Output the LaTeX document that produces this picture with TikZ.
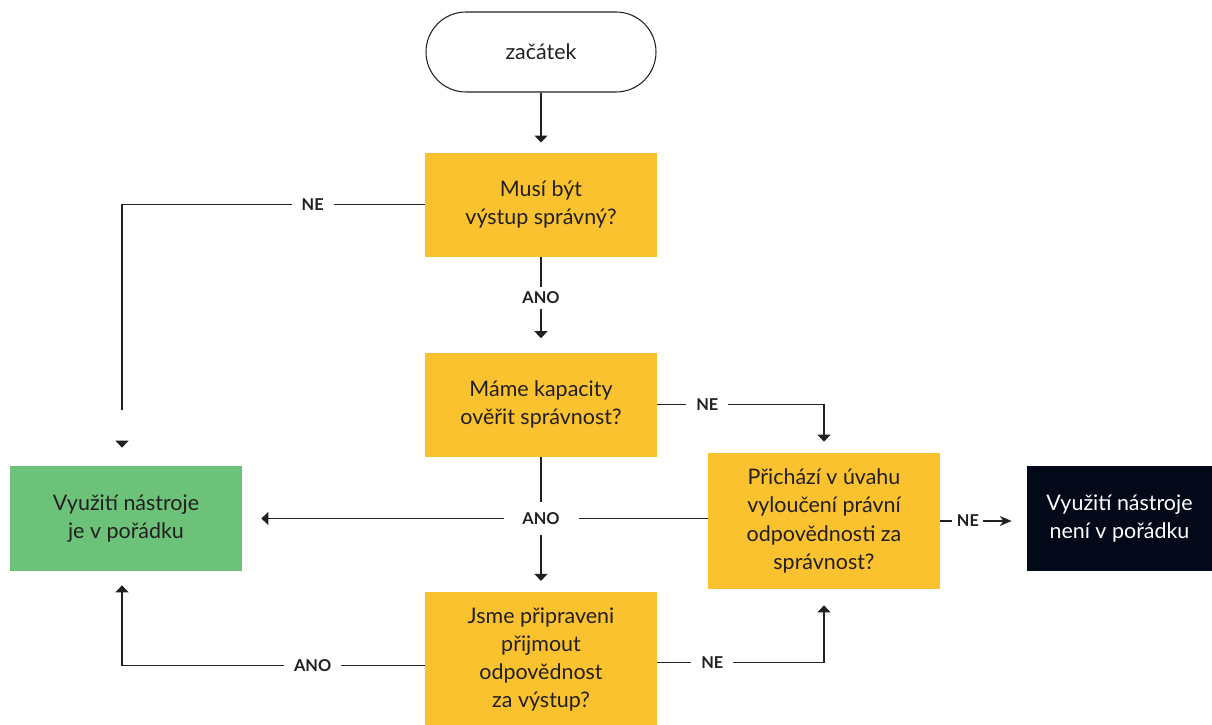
\documentclass[tikz,border=0pt]{standalone}
\usepackage{fontspec}
\setmainfont{Lato}
\usetikzlibrary{arrows.meta, positioning, calc}
\definecolor{flowyellow}{RGB}{249,194,46}
\definecolor{flowgreen}{RGB}{109,194,122}
\definecolor{flownavy}{RGB}{4,9,26}
\definecolor{flowtext}{RGB}{35,31,32}

\begin{document}
\begin{tikzpicture}[
    font=\fontsize{12.2}{16}\selectfont,
    >={Triangle[width=0.26cm, length=0.14cm]},
    line/.style={draw=flowtext, line width=0.6pt},
    terminal/.style={draw=flowtext, line width=0.6pt, rounded corners=0.8cm, minimum width=4.6cm, minimum height=1.6cm, text=flowtext},
    question/.style={fill=flowyellow, minimum width=4.64cm, minimum height=2.08cm, align=center, text=flowtext},
    result/.style={minimum width=4.64cm, minimum height=2.1cm, align=center},
    answer/.style={fill=white, font=\bfseries\fontsize{9.3}{9.3}\selectfont, text=flowtext, inner xsep=0.2cm, inner ysep=0.1cm}
]
    \useasboundingbox (0,0) rectangle (24.24,-14.5);

    % Boxes
    \node[terminal] (start) at (10.82,-1.04) {začátek};
    \node[question, below=1.2cm of start] (correct) {Musí být\\výstup správný?};
    \node[question, below=1.9cm of correct] (capacity) {Máme kapacity\\ověřit správnost?};
    \node[question, below=2.7cm of capacity, minimum height=2.68cm] (liability) {Jsme připraveni\\přijmout\\odpovědnost\\za výstup?};
    \node[question, minimum height=2.72cm] (exclude) at (16.48,-10.42) {Přichází v úvahu\\vyloučení právní\\odpovědnosti za\\správnost?};
    \node[result, fill=flowgreen, text=flowtext] (fine) at (2.52,-10.37) {Využití nástroje\\je v pořádku};
    \node[result, fill=flownavy, text=white, minimum width=3.7cm] (notfine) at (22.39,-10.37) {Využití nástroje\\není v pořádku};

    % --- main column ---
    \draw[line, ->, shorten >=0.2cm] (start) -- (correct);
    \draw[line, ->, shorten >=0.28cm] (correct) -- node[answer, pos=0.43] {ANO} (capacity);
    \draw[line, ->, shorten >=0.22cm] (capacity) -- (liability);

    % --- NE: output need not be correct ---
    \coordinate (leftcol) at ([xshift=-0.08cm]fine.north);
    \coordinate (stop) at ($(leftcol)+(0,1.12)$);
    \coordinate (tiptop) at ($(leftcol)+(0,0.5)$);
    \coordinate (tipend) at ($(leftcol)+(0,0.36)$);
    \draw[line] (correct.west) -- node[answer, pos=0.37] {NE} (correct.west -| stop) -- (stop);
    \draw[line, ->] (tiptop) -- (tipend);

    % --- NE: no capacity to check ---
    \draw[line, ->, shorten >=0.22cm] (capacity.east) -- node[answer, pos=0.3] {NE} (capacity.east -| exclude.north) -- (exclude.north);

    % --- ANO: liability can be excluded ---
    \draw[line, ->, shorten >=0.38cm] (exclude.west |- fine.east) -- (fine.east);
    \node[answer, minimum width=1.5cm, minimum height=0.66cm] (yes2) at (capacity.south |- fine.east) {ANO};

    % --- NE: liability cannot be excluded ---
    \draw[line, -{Stealth[length=0.24cm, width=0.2cm]}, shorten >=0.3cm] (exclude.east) -- node[answer, pos=0.32, inner xsep=0.09cm] {NE} (exclude.east -| notfine.west);

    % --- ready to take responsibility? ---
    \coordinate (lowL) at ([yshift=-0.13cm]liability.west);
    \coordinate (lowR) at ([yshift=-0.06cm]liability.east);
    \draw[line, ->, shorten >=0.28cm] (lowL) -- node[answer, pos=0.37] {ANO} (lowL -| leftcol) -- (leftcol |- fine.south);
    \draw[line, ->, shorten >=0.32cm] (lowR) -- node[answer, pos=0.33] {NE} (lowR -| exclude.south) -- (exclude.south);

\end{tikzpicture}
\end{document}
